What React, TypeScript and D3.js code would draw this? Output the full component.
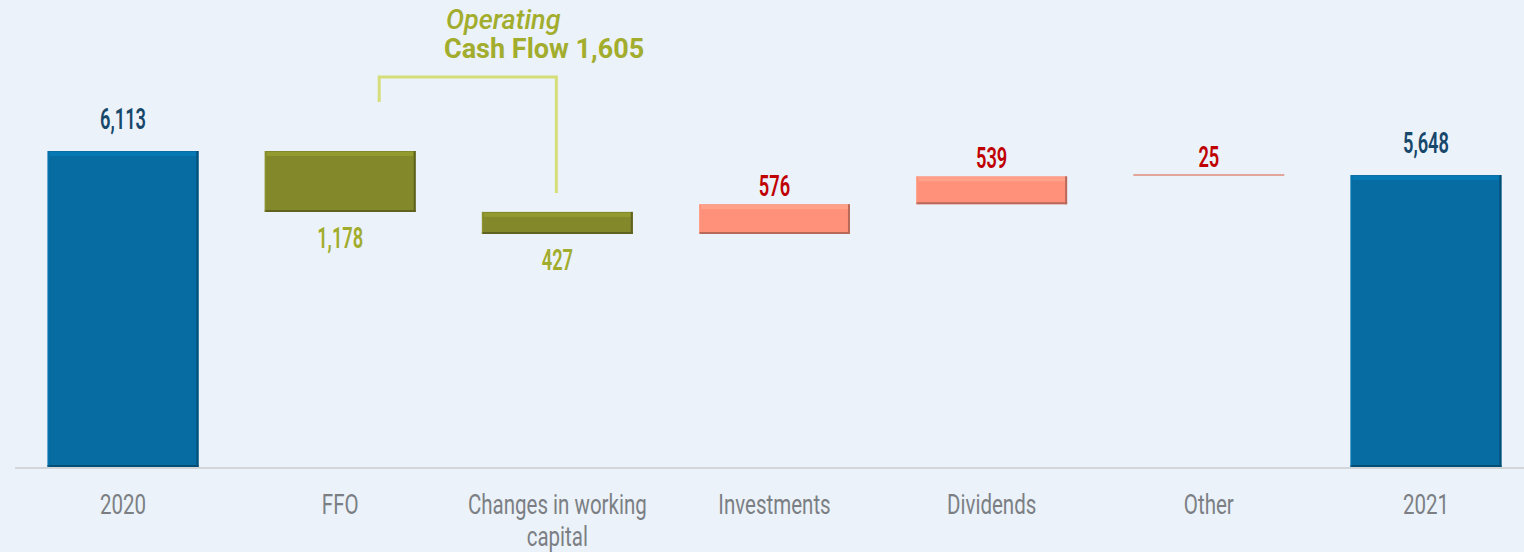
import React from 'react';
import * as d3 from 'd3';

// net debt bridge 2020 -> 2021
const categories = ['2020', 'FFO', 'Changes in working capital', 'Investments', 'Dividends', 'Other', '2021'];
const values = [6113, -1178, -427, 576, 539, 25, 5648];
const kinds = ['total', 'down', 'down', 'up', 'up', 'up', 'total'];
const valueLabels = ['6,113', '1,178', '427', '576', '539', '25', '5,648'];
const bracketTitle = ['Operating', 'Cash Flow 1,605'];

const W = 1524;
const H = 552;
const baseY = 467;

const fills = { total: '#066ca2', down: '#83892b', up: '#ff917b' };
const labelColors = { total: '#17476b', down: '#a2ac2c', up: '#c00000' };

// lines wrapped the way the slide does
const wrapLabel = (s) => (s === 'Changes in working capital' ? ['Changes in working', 'capital'] : [s]);

function Narrow({ x, y, size, weight, color, sx = 0.7, style, children }) {
  return (
    <text
      transform={`translate(${x},${y}) scale(${sx},1)`}
      textAnchor="middle"
      fontFamily="Roboto, 'DejaVu Sans', sans-serif"
      fontSize={size}
      fontWeight={weight}
      fontStyle={style}
      fill={color}
    >
      {children}
    </text>
  );
}

export default function App() {
  const x = d3.scaleBand().domain(categories).range([15, 1534]).paddingInner(0.305).paddingOuter(0.15);
  const y = d3.scaleLinear().domain([0, 6113]).range([baseY, 151]);

  // running start/end for each step
  let run = 0;
  const steps = values.map((v, i) => {
    const kind = kinds[i];
    let from, to;
    if (kind === 'total') {
      from = 0;
      to = v;
      run = v;
    } else {
      from = run;
      to = run + v;
      run = to;
    }
    return { cat: categories[i], kind, lo: Math.min(from, to), hi: Math.max(from, to), label: valueLabels[i] };
  });

  const bw = x.bandwidth();
  const cx = (c) => x(c) + bw / 2;

  const ffo = steps[1];
  const cwc = steps[2];
  const bx1 = cx(ffo.cat) + 39;
  const bx2 = cx(cwc.cat) - 1;

  return (
    <svg width={W} height={H} style={{ position: 'absolute', left: 0, top: 0, background: '#ebf2f9' }}>
      <rect x={0} y={0} width={W} height={H} fill="#ebf2f9" />
      <line x1={15} x2={W} y1={baseY + 1} y2={baseY + 1} stroke="#d3d6d9" strokeWidth={2} />

      {steps.map((s, i) => {
        const top = y(s.hi);
        const bot = y(s.lo);
        const h = Math.max(bot - top, 1.5);
        const bx = x(s.cat);
        if (s.kind === 'up' && bot - top < 3) {
          return <line key={i} x1={bx} x2={bx + bw} y1={top} y2={top} stroke="#e08a7a" strokeWidth={1.5} />;
        }
        const base = fills[s.kind];
        const light = d3.color(base).brighter(0.45).formatHex();
        const dark = d3.color(base).darker(0.9).formatHex();
        return (
          <g key={i}>
            <rect x={bx} y={top} width={bw} height={h} fill={base} />
            <rect x={bx + 2} y={top + 1} width={bw - 4} height={4} fill={light} opacity={0.7} />
            <line x1={bx} x2={bx + bw} y1={top + h - 1} y2={top + h - 1} stroke={dark} strokeWidth={2} />
            <line x1={bx + bw - 1} x2={bx + bw - 1} y1={top} y2={top + h} stroke={dark} strokeWidth={2} />
            <line x1={bx + 0.5} x2={bx + 0.5} y1={top} y2={top + h} stroke={light} strokeWidth={1} opacity={0.6} />
          </g>
        );
      })}

      {steps.map((s, i) => {
        let ly;
        if (s.kind === 'total') ly = y(s.hi) - 22;
        else if (s.kind === 'down') ly = y(s.lo) + 36;
        else ly = y(s.hi) - 8;
        return (
          <Narrow key={i} x={cx(s.cat)} y={ly} size={29} weight={600} color={labelColors[s.kind]} sx={0.63}>
            {s.label}
          </Narrow>
        );
      })}

      {categories.map((c, i) =>
        wrapLabel(c).map((line, j) => (
          <Narrow key={`${i}-${j}`} x={cx(c)} y={514 + j * 32} size={27} weight={400} color="#7b7f84" sx={0.76}>
            {line}
          </Narrow>
        ))
      )}

      <path
        d={`M${bx1},${102} V${77} H${bx2} V${193}`}
        fill="none"
        stroke="#d6de7a"
        strokeWidth={3}
      />
      <text x={446} y={29} fontFamily="Roboto, sans-serif" fontSize={27} fontStyle="italic" fontWeight={500} fill="#a3ad2d">
        {bracketTitle[0]}
      </text>
      <text x={444} y={58} fontFamily="Roboto, sans-serif" fontSize={27} fontWeight={700} fill="#a3ad2d">
        {bracketTitle[1]}
      </text>
    </svg>
  );
}
